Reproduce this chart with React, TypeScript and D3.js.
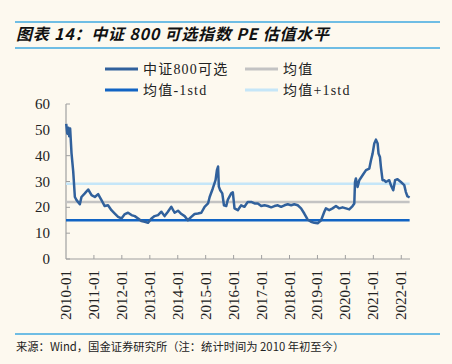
import React from "react";
import * as d3 from "d3";

const dates: string[] = [
  "2010-01-04","2010-01-18","2010-02-01","2010-02-12","2010-02-24","2010-03-14","2010-04-05","2010-04-27",
  "2010-05-19","2010-07-01","2010-07-22","2010-09-04","2010-10-18","2010-12-01","2011-01-13","2011-02-25",
  "2011-04-10","2011-05-22","2011-07-04","2011-08-18","2011-10-01","2011-11-13","2011-12-27","2012-02-09",
  "2012-03-22","2012-05-06","2012-06-18","2012-08-01","2012-09-13","2012-10-27","2012-12-09","2013-01-22",
  "2013-03-04","2013-04-18","2013-06-01","2013-07-13","2013-08-25","2013-10-09","2013-11-21","2014-01-04",
  "2014-02-18","2014-04-01","2014-05-13","2014-06-27","2014-08-09","2014-09-21","2014-11-05","2014-12-18",
  "2015-02-01","2015-02-22","2015-04-04","2015-05-10","2015-05-28","2015-06-12","2015-06-22","2015-07-10",
  "2015-08-06","2015-08-28","2015-09-27","2015-10-18","2015-12-01","2015-12-22","2016-01-13","2016-02-25",
  "2016-04-09","2016-05-22","2016-07-04","2016-08-18","2016-10-01","2016-11-13","2016-12-27","2017-02-09",
  "2017-03-22","2017-05-06","2017-06-18","2017-08-01","2017-09-13","2017-10-27","2017-12-09","2018-01-22",
  "2018-03-04","2018-04-18","2018-06-01","2018-07-13","2018-08-25","2018-10-09","2018-11-21","2019-01-04",
  "2019-02-18","2019-04-01","2019-04-22","2019-06-04","2019-07-18","2019-08-31","2019-10-13","2019-11-25",
  "2020-01-09","2020-02-21","2020-04-04","2020-04-27","2020-05-06","2020-05-18","2020-06-09","2020-07-01",
  "2020-08-13","2020-09-27","2020-11-09","2020-12-01","2020-12-22","2021-01-13","2021-02-04","2021-02-26",
  "2021-03-10","2021-03-28","2021-04-10","2021-05-01","2021-05-22","2021-06-13","2021-07-27","2021-08-18",
  "2021-09-18","2021-10-12","2021-11-13","2021-12-27","2022-02-09","2022-03-01","2022-03-22","2022-04-20",
];

const pe: number[] = [
  52.3, 48.5, 50.8, 47.5, 50.5, 41, 34, 24,
  22.8, 21.2, 24, 25.4, 26.9, 24.7, 24, 25.1,
  22.8, 20.5, 20.8, 18.9, 17.6, 16.3, 15.7, 17.4,
  17.9, 17, 16.6, 15.7, 14.7, 14.4, 14, 15.7,
  16.6, 17, 18.3, 16.6, 18.3, 20.2, 17.9, 18.7,
  17.4, 16.6, 15, 16.3, 17.4, 17.6, 17.9, 20.2,
  21.5, 24, 27.3, 30.5, 34.4, 35.8, 28, 26.6,
  25.4, 20.8, 20.5, 23, 25.4, 25.8, 19.6, 18.9,
  20.8, 20.2, 22.1, 22.1, 21.5, 21.5, 20.5, 20.8,
  20.5, 20, 20.5, 20.8, 20.2, 20.8, 21.2, 20.8,
  21.2, 20.8, 19.6, 17.6, 15.3, 14.4, 14, 13.8,
  15, 18.3, 19.6, 18.9, 19.6, 20.5, 19.6, 20,
  19.6, 19.2, 20.5, 21.5, 29.8, 31.2, 27.9, 30.5,
  32.4, 34.4, 35, 38.2, 40.8, 44.7, 46.2, 44.7,
  40.8, 39.5, 35.6, 30.5, 30.5, 29.8, 30.5, 28.6,
  26.6, 30.5, 30.9, 29.8, 28.6, 26, 24.3, 23.8,
];

const meanValue = 22.1;
const minusStd = 15.0;
const plusStd = 29.1;

const yTicks: number[] = [0, 10, 20, 30, 40, 50, 60];
const xTickLabels: string[] = [
  "2010-01","2011-01","2012-01","2013-01","2014-01","2015-01","2016-01",
  "2017-01","2018-01","2019-01","2020-01","2021-01","2022-01",
];

const legendLabels: string[] = ["中证800可选", "均值", "均值-1std", "均值+1std"];
const titleText = "图表 14：中证 800 可选指数 PE 估值水平";
const sourceText = "来源：Wind，国金证券研究所（注：统计时间为 2010 年初至今）";

const COLORS = {
  bg: "#fdf9ef",
  series: "#31619c",
  mean: "#c3c3c3",
  minus: "#1164c4",
  plus: "#c5e6f8",
  rule: "#3fa9e0",
  axis: "#a0a0a0",
};

const serif = "'Liberation Serif', 'Noto Sans CJK SC', serif";
const cjk = "'Noto Sans CJK SC', sans-serif";

export default function App() {
  const W = 452, H = 364;
  const parse = d3.timeParse("%Y-%m-%d");
  const data = dates.map((d, i) => ({ date: parse(d) as Date, v: pe[i] }));

  const x = d3.scaleTime()
    .domain([new Date(2010, 0, 1), new Date(2022, 3, 25)])
    .range([66, 410]);
  const y = d3.scaleLinear().domain([0, 60]).range([259, 104]);

  const line = d3.line<{ date: Date; v: number }>()
    .x((d) => x(d.date))
    .y((d) => y(d.v));

  const x0 = x.range()[0], x1 = x.range()[1];
  const dataEnd = x(data[data.length - 1].date);

  const legendItems = [
    { label: legendLabels[0], color: COLORS.series, lx: 105, ly: 69 },
    { label: legendLabels[1], color: COLORS.mean, lx: 245, ly: 69 },
    { label: legendLabels[2], color: COLORS.minus, lx: 105, ly: 90 },
    { label: legendLabels[3], color: COLORS.plus, lx: 245, ly: 90 },
  ];

  return (
    <svg width={W} height={H} style={{ position: "absolute", left: 0, top: 0, background: COLORS.bg }}>
      <rect x={0} y={0} width={W} height={H} fill={COLORS.bg} />
      <line x1={15} x2={440} y1={22} y2={22} stroke={COLORS.rule} strokeWidth={1.5} />
      <text x={16} y={40} fontFamily={cjk} fontSize={16} letterSpacing={0.8} fontWeight="bold" fontStyle="italic" fill="#111">
        {titleText}
      </text>
      <line x1={15} x2={440} y1={48} y2={48} stroke={COLORS.rule} strokeWidth={1.5} />

      {legendItems.map((it, i) => (
        <g key={i}>
          <line x1={it.lx} x2={it.lx + 33} y1={it.ly} y2={it.ly} stroke={it.color} strokeWidth={3} />
          <text x={it.lx + 38} y={it.ly + 5} fontFamily={serif} fontSize={14} letterSpacing={1.2} fill="#222">{it.label}</text>
        </g>
      ))}

      {/* axes */}
      <line x1={x0} x2={x0} y1={y(60)} y2={y(0)} stroke={COLORS.axis} strokeWidth={1.2} />
      <line x1={x0} x2={x1} y1={y(0)} y2={y(0)} stroke={COLORS.axis} strokeWidth={1.2} />
      {yTicks.map((t) => (
        <g key={t}>
          <line x1={x0} x2={x0 + 4} y1={y(t)} y2={y(t)} stroke={COLORS.axis} strokeWidth={1} />
          <text x={50} y={y(t) + 5} textAnchor="end" fontFamily={serif} fontSize={15} fill="#222">{t}</text>
        </g>
      ))}
      {xTickLabels.map((lab) => {
        const [yy, mm] = lab.split("-").map(Number);
        const tx = x(new Date(yy, mm - 1, 1));
        return (
          <g key={lab}>
            {lab !== "2010-01" && (
              <line x1={tx} x2={tx} y1={y(0)} y2={y(0) - 4} stroke={COLORS.axis} strokeWidth={1} />
            )}
            <text
              transform={`translate(${tx + 5},${y(0) + 11}) rotate(-90)`}
              textAnchor="end"
              fontFamily={serif}
              fontSize={15}
              fill="#222"
            >
              {lab}
            </text>
          </g>
        );
      })}

      {/* reference lines */}
      <line x1={x0} x2={dataEnd} y1={y(meanValue)} y2={y(meanValue)} stroke={COLORS.mean} strokeWidth={2.5} />
      <line x1={x0} x2={dataEnd} y1={y(plusStd)} y2={y(plusStd)} stroke={COLORS.plus} strokeWidth={2.5} />
      <line x1={x0} x2={dataEnd} y1={y(minusStd)} y2={y(minusStd)} stroke={COLORS.minus} strokeWidth={2.5} />

      <path d={line(data) || ""} fill="none" stroke={COLORS.series} strokeWidth={2.5} strokeLinejoin="round" />

      <line x1={15} x2={440} y1={334} y2={334} stroke={COLORS.rule} strokeWidth={1.5} />
      <text x={16} y={351} fontFamily={cjk} fontSize={11.3} fill="#222">{sourceText}</text>
    </svg>
  );
}
